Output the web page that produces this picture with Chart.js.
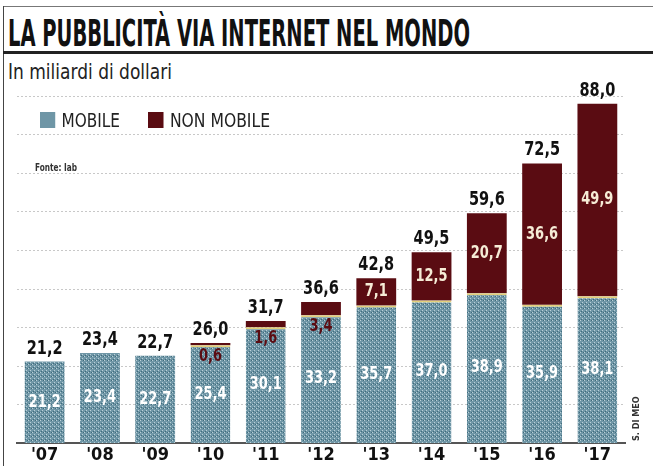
<!DOCTYPE html>
<html>
<head>
<meta charset="utf-8">
<script src="https://cdn.jsdelivr.net/npm/chart.js@4.4.1/dist/chart.umd.min.js"></script>
<style>
  body { margin: 0; background: #fff; }
  #wrap { position: relative; width: 653px; height: 469px; overflow: hidden; background: #fff; font-family: "DejaVu Sans Condensed", "Liberation Sans Narrow", sans-serif; }
  #chart { position: absolute; left: 0; top: 0; }
  .fit { position: absolute; white-space: nowrap; transform-origin: left top; }
  .title { left: 8px; top: 11px; font-size: 38px; font-weight: bold; color: #111; }
  .sub { left: 8px; top: 60px; font-size: 21px; color: #222; }
  .topline { position: absolute; left: 3px; right: 0; top: 6px; height: 1px; background: #777; }
  .titleline { position: absolute; left: 3px; right: 0; top: 51px; height: 3px; background: #222; }
  .leftline { position: absolute; left: 3px; top: 6px; width: 1px; height: 460px; background: #444; }
  .legend { top: 109px; font-size: 19px; color: #222; }
  .legend span.sw { display: inline-block; width: 17px; height: 16px; vertical-align: -1px; margin-right: 7px; }
  .fonte { left: 35px; top: 161px; font-size: 11px; font-weight: bold; color: #333; }
  .sign { left: 631px; top: 441px; font-size: 9px; font-weight: bold; color: #333; transform: rotate(-90deg); }
</style>
</head>
<body>
<div id="wrap">
  <div class="topline"></div>
  <div class="leftline"></div>
  <div class="fit title" data-w="462">LA PUBBLICITÀ VIA INTERNET NEL MONDO</div>
  <div class="titleline"></div>
  <div class="fit sub" data-w="164">In miliardi di dollari</div>
  <canvas id="chart" width="653" height="469"></canvas>
  <div class="fit legend" style="left:40px" data-w="80"><span class="sw" style="background:#6f96a6"></span>MOBILE</div>
  <div class="fit legend" style="left:148px" data-w="122"><span class="sw" style="background:#5a0c12"></span>NON MOBILE</div>
  <div class="fit fonte" data-w="42">Fonte: Iab</div>
  <div class="sign fit">S. DI MEO</div>
</div>
<script>
const years = ["'07", "'08", "'09", "'10", "'11", "'12", "'13", "'14", "'15", "'16", "'17"];
const mobile = [21.2, 23.4, 22.7, 25.4, 30.1, 33.2, 35.7, 37.0, 38.9, 35.9, 38.1];
const nonMobile = [0, 0, 0, 0.6, 1.6, 3.4, 7.1, 12.5, 20.7, 36.6, 49.9];
const totals = [21.2, 23.4, 22.7, 26.0, 31.7, 36.6, 42.8, 49.5, 59.6, 72.5, 88.0];

const FONT = "'DejaVu Sans Condensed', 'Liberation Sans Narrow', sans-serif";
const fmt = (v) => v.toFixed(1).replace(".", ",");

// squeeze the html texts to the widths of the printed condensed font
document.querySelectorAll(".fit[data-w]").forEach((el) => {
  const w = el.getBoundingClientRect().width;
  el.style.transform = "scaleX(" + (el.dataset.w / w) + ")";
});

// speckled fill like the printed texture
function speckle(base, dot) {
  const c = document.createElement("canvas");
  c.width = 4; c.height = 4;
  const g = c.getContext("2d");
  g.fillStyle = base;
  g.fillRect(0, 0, 4, 4);
  g.fillStyle = dot;
  g.fillRect(0, 0, 1, 1);
  g.fillRect(2, 2, 1, 1);
  g.fillStyle = "#3f6b7b";
  g.fillRect(3, 0, 1, 1);
  g.fillRect(1, 3, 1, 1);
  return c.getContext("2d").createPattern(c, "repeat");
}

const ctx = document.getElementById("chart").getContext("2d");
const mobileFill = speckle("#6f96a6", "#b9d0d8");

function narrowText(c, txt, x, y, sx) {
  c.save();
  c.translate(x, y);
  c.scale(sx, 1);
  c.fillText(txt, 0, 0);
  c.restore();
}

const labelPlugin = {
  id: "barLabels",
  afterDatasetsDraw(chart) {
    const c = chart.ctx;
    const m0 = chart.getDatasetMeta(0);
    const m1 = chart.getDatasetMeta(1);
    c.save();
    c.textAlign = "center";
    c.textBaseline = "middle";
    years.forEach((y, i) => {
      const b0 = m0.data[i];
      const b1 = m1.data[i];
      c.font = "bold 17px " + FONT;
      c.fillStyle = "#ffffff";
      narrowText(c, fmt(mobile[i]), b0.x, (b0.y + b0.base) / 2, 0.85);
      if (nonMobile[i] > 0) {
        if (nonMobile[i] < 5) {
          c.fillStyle = "#5a0c12";
          narrowText(c, fmt(nonMobile[i]), b0.x, b0.y + 11, 0.85);
        } else {
          c.fillStyle = "#f6ecd6";
          narrowText(c, fmt(nonMobile[i]), b1.x, (b1.y + b1.base) / 2, 0.85);
        }
      }
      const top = nonMobile[i] > 0 ? b1.y : b0.y;
      c.font = "bold 19px " + FONT;
      c.fillStyle = "#111";
      narrowText(c, fmt(totals[i]), b0.x, top - 13, 0.85);
    });
    c.restore();
  }
};

new Chart(ctx, {
  type: "bar",
  data: {
    labels: years,
    datasets: [
      {
        label: "MOBILE",
        data: mobile,
        backgroundColor: mobileFill,
        borderColor: "#e2cf7a",
        borderWidth: (c) => (nonMobile[c.dataIndex] > 0 ? { top: 2, left: 0, right: 0, bottom: 0 } : 0),
        borderSkipped: false,
        barPercentage: 0.72,
        categoryPercentage: 1.0
      },
      {
        label: "NON MOBILE",
        data: nonMobile,
        backgroundColor: "#5a0c12",
        borderWidth: 0,
        barPercentage: 0.72,
        categoryPercentage: 1.0
      }
    ]
  },
  options: {
    responsive: false,
    animation: false,
    layout: { padding: { left: 17, right: 28, top: 96, bottom: 2 } },
    plugins: { legend: { display: false }, tooltip: { enabled: false } },
    scales: {
      x: {
        stacked: true,
        grid: { display: false, drawTicks: false },
        border: { display: true, color: "#555", width: 2 },
        ticks: { color: "#111", font: { family: FONT, size: 18, weight: "bold" }, padding: 1 }
      },
      y: {
        stacked: true,
        min: 0,
        max: 90,
        ticks: { display: false, stepSize: 10 },
        grid: { color: "#c8c8c8", lineWidth: 1, drawTicks: false },
        border: { display: false, dash: [2, 2] }
      }
    }
  },
  plugins: [labelPlugin]
});
</script>
</body>
</html>
